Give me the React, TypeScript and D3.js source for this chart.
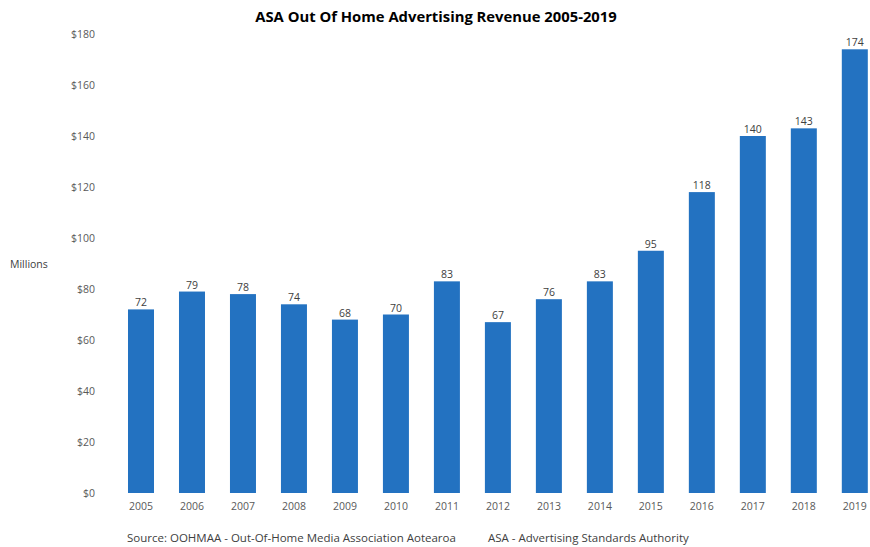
import React, { useEffect, useRef } from 'react'
import * as d3 from 'd3'

const years = ['2005', '2006', '2007', '2008', '2009', '2010', '2011', '2012', '2013', '2014', '2015', '2016', '2017', '2018', '2019']
const revenue = [72, 79, 78, 74, 68, 70, 83, 67, 76, 83, 95, 118, 140, 143, 174]
const yTicks = [0, 20, 40, 60, 80, 100, 120, 140, 160, 180]

const App = () => {
  const chartRef = useRef<SVGSVGElement | null>(null)

  useEffect(() => {
    if (!chartRef.current) return
    const svg = d3.select(chartRef.current)
    svg.selectAll('*').remove()

    const width = 870
    const height = 547
    const font = '"Open Sans", sans-serif'

    const x = d3.scaleBand().domain(years).range([117.8, 878]).paddingInner(0.49).paddingOuter(0.2)
    const y = d3.scaleLinear().domain([0, 180]).range([493, 34])

    svg.attr('width', width).attr('height', height)

    // title
    svg.append('text')
      .attr('x', 436)
      .attr('y', 22)
      .attr('text-anchor', 'middle')
      .attr('font-family', font)
      .attr('font-weight', 'bold')
      .attr('font-size', 14.8)
      .attr('fill', '#000')
      .text('ASA Out Of Home Advertising Revenue 2005-2019')

    // y axis labels, no axis line
    const yAxis = svg.append('g')
      .attr('transform', 'translate(95,0)')
      .call(d3.axisLeft(y).tickValues(yTicks).tickSize(0).tickPadding(0).tickFormat((d) => `$${d}`))
    yAxis.select('.domain').remove()
    yAxis.selectAll('text').attr('font-family', font).attr('font-size', 10.5).attr('fill', '#595959')

    svg.append('text')
      .attr('x', 10)
      .attr('y', 268)
      .attr('font-family', font)
      .attr('font-size', 10.5)
      .attr('fill', '#404040')
      .text('Millions')

    // x axis labels
    const xAxis = svg.append('g')
      .attr('transform', 'translate(0,497)')
      .call(d3.axisBottom(x).tickSize(0).tickPadding(6))
    xAxis.select('.domain').remove()
    xAxis.selectAll('text').attr('font-family', font).attr('font-size', 10.5).attr('fill', '#595959')

    // bars
    svg.append('g')
      .selectAll('rect')
      .data(years)
      .join('rect')
      .attr('x', (d) => x(d)!)
      .attr('y', (d, i) => y(revenue[i]))
      .attr('width', x.bandwidth())
      .attr('height', (d, i) => y(0) - y(revenue[i]))
      .attr('fill', '#2372c1')

    // value labels
    svg.append('g')
      .selectAll('text')
      .data(years)
      .join('text')
      .attr('x', (d) => x(d)! + x.bandwidth() / 2)
      .attr('y', (d, i) => y(revenue[i]) - 3)
      .attr('text-anchor', 'middle')
      .attr('font-family', font)
      .attr('font-size', 10.5)
      .attr('fill', '#404040')
      .text((d, i) => revenue[i])

    // source notes
    svg.append('text')
      .attr('x', 127)
      .attr('y', 542)
      .attr('font-family', font)
      .attr('font-size', 11.5)
      .attr('fill', '#404040')
      .text('Source: OOHMAA - Out-Of-Home Media Association Aotearoa')
    svg.append('text')
      .attr('x', 488)
      .attr('y', 542)
      .attr('font-family', font)
      .attr('font-size', 11.5)
      .attr('fill', '#404040')
      .text('ASA - Advertising Standards Authority')
  }, [])

  return (
    <div style={{ position: 'fixed', left: 0, top: 0, width: 870, height: 547, overflow: 'hidden', background: '#fff' }}>
      <svg ref={chartRef} width="870" height="547" style={{ display: 'block' }} />
    </div>
  )
}

export default App
